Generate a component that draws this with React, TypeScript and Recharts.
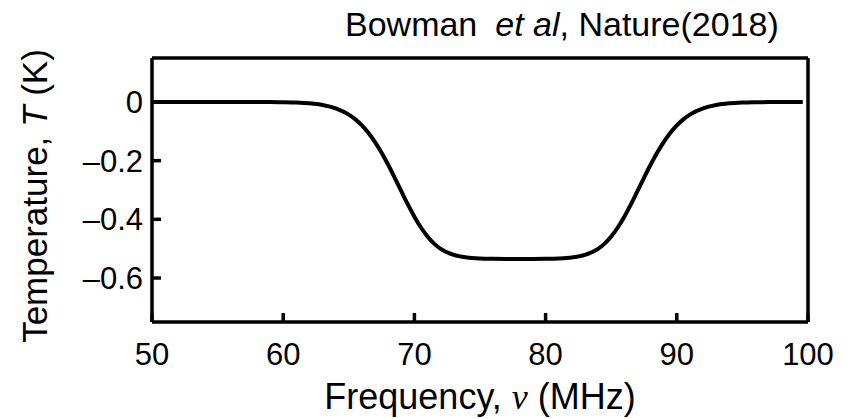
import { LineChart, Line, XAxis, YAxis } from "recharts"

// frequency (MHz) and brightness temperature (K)
const FREQ = [
  50, 52, 54, 56, 58, 59, 60, 61, 62, 63, 64, 65, 65.5, 66, 66.5, 67, 67.5, 68, 68.5, 69, 69.5, 70, 70.5, 71,
  71.5, 72, 73, 74, 75, 76, 77, 78, 79, 80, 81, 82, 83, 84, 84.5, 85, 85.5, 86, 86.5, 87, 87.5, 88, 88.5, 89,
  89.5, 90, 90.5, 91, 92, 93, 94, 95, 96, 97, 98, 99.6,
]
const TEMP = [
  0, 0, 0, 0, 0, -0.0003, -0.0008, -0.0019, -0.0046, -0.0103, -0.0217, -0.043, -0.0591, -0.0798, -0.1055,
  -0.1366, -0.173, -0.214, -0.2584, -0.304, -0.3491, -0.391, -0.4279, -0.4585, -0.4827, -0.5005, -0.5214,
  -0.53, -0.5334, -0.5345, -0.535, -0.535, -0.535, -0.5345, -0.5334, -0.53, -0.5214, -0.5005, -0.4827, -0.4585,
  -0.4279, -0.391, -0.3491, -0.304, -0.2584, -0.214, -0.173, -0.1366, -0.1055, -0.0798, -0.0591, -0.043,
  -0.0217, -0.0103, -0.0046, -0.0019, -0.0008, -0.0003, 0, 0,
]
const X_TICKS = [50, 60, 70, 80, 90, 100]
const Y_TICKS = [-0.6, -0.4, -0.2, 0]
const X_DOMAIN = [50, 100]
const Y_DOMAIN = [-0.75, 0.15]

const data = FREQ.map((f, i) => ({ freq: f, temp: TEMP[i] }))

const FONT = "'Liberation Sans', Arial, Helvetica, sans-serif"
const AXIS_W = 3.5
const TICK_LEN = 9
const frame = { stroke: "#000", strokeWidth: AXIS_W }

const XTick = ({ x, y, payload }: any) => (
  <text x={x} y={y + 43} textAnchor="middle" fontSize={31} fontFamily={FONT} fill="#000">
    {payload.value}
  </text>
)

const YTick = ({ x, y, payload }: any) => {
  const v = payload.value
  const label = v === 0 ? "0" : "\u2013" + Math.abs(v)
  return (
    <text x={x - 9} y={y + 11} textAnchor="end" fontSize={31} fontFamily={FONT} fill="#000">
      {label}
    </text>
  )
}

export default function App() {
  return (
    <div style={{ position: "absolute", left: 0, top: 0, width: 856, height: 419, background: "#fff" }}>
      <LineChart width={856} height={419} data={data} margin={{ top: 58, right: 48, bottom: 0, left: 0 }}>
        <Line
          type="monotone"
          dataKey="temp"
          stroke="#000"
          strokeWidth={4}
          dot={false}
          isAnimationActive={false}
        />
        {/* negative tick size makes the ticks point into the plot */}
        <XAxis
          dataKey="freq"
          type="number"
          domain={X_DOMAIN}
          ticks={X_TICKS}
          height={97}
          axisLine={frame}
          tickLine={frame}
          tickSize={-TICK_LEN}
          tickMargin={TICK_LEN}
          tick={<XTick />}
          interval={0}
        />
        <XAxis
          xAxisId="top"
          orientation="top"
          type="number"
          domain={X_DOMAIN}
          mirror
          axisLine={frame}
          tick={false}
          tickLine={false}
        />
        <YAxis
          type="number"
          domain={Y_DOMAIN}
          ticks={Y_TICKS}
          width={152}
          axisLine={frame}
          tickLine={frame}
          tickSize={-TICK_LEN}
          tickMargin={TICK_LEN}
          tick={<YTick />}
          interval={0}
          allowDataOverflow
        />
        <YAxis
          yAxisId="right"
          orientation="right"
          type="number"
          domain={Y_DOMAIN}
          mirror
          axisLine={frame}
          tick={false}
          tickLine={false}
        />
      </LineChart>
      <svg
        width={856}
        height={419}
        style={{ position: "absolute", left: 0, top: 0, pointerEvents: "none" }}
        fontFamily={FONT}
      >
        <text x={345} y={36} fontSize={34} fill="#000">
          Bowman
          <tspan dx={18} fontStyle="italic">et al</tspan>
          , Nature(2018)
        </text>
        <text x={480} y={409} fontSize={36} textAnchor="middle" fill="#000">
          Frequency,{" "}
          <tspan fontFamily="'Liberation Serif', 'Times New Roman', serif" fontStyle="italic">
            ν
          </tspan>{" "}
          (MHz)
        </text>
        <text
          transform="translate(47, 196) rotate(-90)"
          fontSize={35}
          textAnchor="middle"
          fill="#000"
        >
          Temperature, <tspan fontStyle="italic">T</tspan> (K)
        </text>
      </svg>
    </div>
  )
}
